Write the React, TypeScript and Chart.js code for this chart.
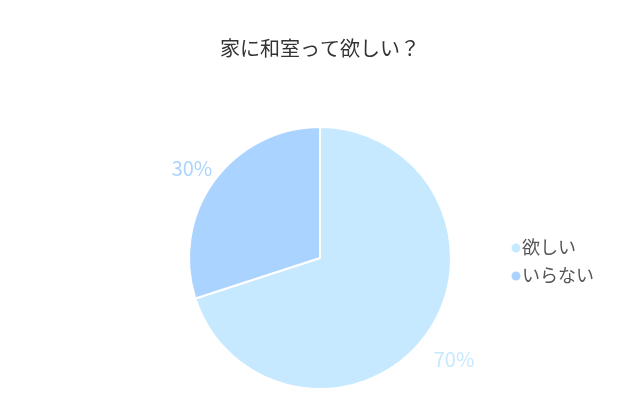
import React, { useEffect, useRef } from "react";
import { Chart, registerables } from "chart.js";

Chart.register(...registerables);

const titleText = "家に和室って欲しい？";
const categories = ["欲しい", "いらない"];
const values = [70, 30];
const sliceColors = ["#C6E9FF", "#AAD4FF"];
const FONT = "'Noto Sans CJK JP', 'Noto Sans', sans-serif";

const percentLabelPlugin = {
  id: "percentLabels",
  afterDatasetsDraw(chart: any) {
    const ctx = chart.ctx;
    const meta = chart.getDatasetMeta(0);
    const total = values.reduce((a, b) => a + b, 0);
    ctx.save();
    ctx.font = `20px ${FONT}`;
    ctx.textAlign = "center";
    ctx.textBaseline = "middle";
    meta.data.forEach((arc: any, i: number) => {
      const { x, y, startAngle, endAngle, outerRadius } = arc.getProps(
        ["x", "y", "startAngle", "endAngle", "outerRadius"],
        true
      );
      const mid = (startAngle + endAngle) / 2;
      const d = outerRadius + 31;
      const px = x + Math.cos(mid) * d + 3;
      const py = y + Math.sin(mid) * d + 6;
      ctx.fillStyle = sliceColors[i];
      ctx.fillText(Math.round((values[i] / total) * 100) + "%", px, py);
    });
    ctx.restore();
  },
};

const legendPlugin = {
  id: "sideLegend",
  afterDraw(chart: any) {
    const ctx = chart.ctx;
    ctx.save();
    ctx.font = `18px ${FONT}`;
    ctx.textAlign = "left";
    ctx.textBaseline = "middle";
    categories.forEach((c, i) => {
      const y = 248 + i * 28;
      ctx.fillStyle = sliceColors[i];
      ctx.beginPath();
      ctx.arc(516, y, 4.5, 0, Math.PI * 2);
      ctx.fill();
      ctx.fillStyle = "#555555";
      ctx.fillText(c, 522, y - 1);
    });
    ctx.restore();
  },
};

export default function App() {
  const ref = useRef<HTMLCanvasElement>(null);
  useEffect(() => {
    if (!ref.current) return;
    const chart = new Chart(ref.current, {
      type: "pie",
      data: {
        labels: categories,
        datasets: [
          {
            data: values,
            backgroundColor: sliceColors,
            borderColor: "#ffffff",
            borderWidth: 2,
            hoverOffset: 0,
          },
        ],
      },
      options: {
        animation: false,
        responsive: false,
        maintainAspectRatio: false,
        layout: { padding: { top: 0, bottom: 15, left: 0, right: 0 } },
        plugins: {
          legend: { display: false },
          tooltip: { enabled: false },
          title: {
            display: true,
            text: titleText,
            color: "#333333",
            font: { size: 20, weight: "normal", family: FONT, lineHeight: 1.2 },
            padding: { top: 36, bottom: 66 },
          },
        },
      },
      plugins: [percentLabelPlugin, legendPlugin],
    });
    return () => chart.destroy();
  }, []);
  return (
    <div style={{ position: "fixed", left: 0, top: 0, width: 640, height: 405, background: "#fff" }}>
      <canvas ref={ref} width={640} height={405} style={{ width: 640, height: 405 }} />
    </div>
  );
}
